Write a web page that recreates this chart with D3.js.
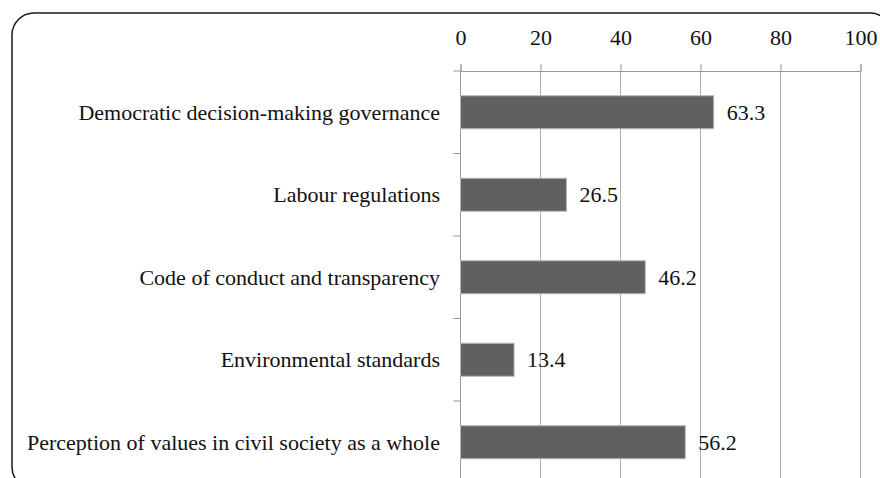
<!DOCTYPE html>
<html>
<head>
<meta charset="utf-8">
<script src="https://cdn.jsdelivr.net/npm/d3@7"></script>
<style>
  html, body { margin: 0; padding: 0; background: #fff; }
  svg { display: block; }
  text { font-family: "Liberation Serif", "Times New Roman", serif; fill: #111; }
</style>
</head>
<body>
<svg id="chart" width="880" height="478"></svg>
<script>
const categories = [
  "Democratic decision-making governance",
  "Labour regulations",
  "Code of conduct and transparency",
  "Environmental standards",
  "Perception of values in civil society as a whole"
];
const values = [63.3, 26.5, 46.2, 13.4, 56.2];
const tickValues = [0, 20, 40, 60, 80, 100];

const svg = d3.select("#chart");

// Rounded frame around the whole chart
svg.append("rect")
  .attr("x", 12).attr("y", 13)
  .attr("width", 880).attr("height", 476)
  .attr("rx", 22).attr("ry", 22)
  .attr("fill", "#fff")
  .attr("stroke", "#1a1a1a")
  .attr("stroke-width", 1.5);

const plot = { left: 460.5, right: 860.5, top: 71, bottom: 483.5 };

const x = d3.scaleLinear().domain([0, 100]).range([plot.left, plot.right]);
const y = d3.scaleBand().domain(categories)
  .range([plot.top, plot.bottom])
  .paddingInner(0.6).paddingOuter(0.3);

// Vertical gridlines
svg.append("g")
  .selectAll("line")
  .data(tickValues.filter(d => d > 0))
  .join("line")
  .attr("x1", d => x(d)).attr("x2", d => x(d))
  .attr("y1", plot.top).attr("y2", plot.bottom)
  .attr("stroke", "#b0b0b0").attr("stroke-width", 1);

// Top value axis
const xAxis = svg.append("g")
  .attr("transform", `translate(0,${plot.top})`)
  .call(d3.axisTop(x).tickValues(tickValues).tickSize(7).tickPadding(19).tickFormat(d3.format("d")));
xAxis.select(".domain").attr("stroke", "#999");
xAxis.selectAll(".tick line").attr("stroke", "#999");
xAxis.selectAll("text")
  .attr("font-size", 22)
  .attr("fill", "#111");

// Category axis: line with ticks at band boundaries
const step = y.step();
const boundaries = d3.range(categories.length + 1).map(i => plot.top + i * step);
svg.append("line")
  .attr("x1", plot.left).attr("x2", plot.left)
  .attr("y1", plot.top).attr("y2", plot.bottom)
  .attr("stroke", "#999");
svg.append("g")
  .selectAll("line")
  .data(boundaries)
  .join("line")
  .attr("x1", plot.left - 7).attr("x2", plot.left)
  .attr("y1", d => d).attr("y2", d => d)
  .attr("stroke", "#999");

// Category labels
svg.append("g")
  .selectAll("text")
  .data(categories)
  .join("text")
  .attr("x", 440)
  .attr("y", d => y(d) + y.bandwidth() / 2)
  .attr("dy", "0.35em")
  .attr("text-anchor", "end")
  .attr("font-size", 22)
  .text(d => d);

// Bars
svg.append("g")
  .selectAll("rect")
  .data(values)
  .join("rect")
  .attr("x", x(0))
  .attr("y", (d, i) => y(categories[i]))
  .attr("width", d => x(d) - x(0))
  .attr("height", y.bandwidth())
  .attr("fill", "#606060")
  .attr("stroke", "#b8b8b8")
  .attr("stroke-width", 1);

// Value labels
svg.append("g")
  .selectAll("text")
  .data(values)
  .join("text")
  .attr("x", d => x(d) + 13)
  .attr("y", (d, i) => y(categories[i]) + y.bandwidth() / 2)
  .attr("dy", "0.35em")
  .attr("font-size", 22)
  .text(d => d.toFixed(1));
</script>
</body>
</html>
